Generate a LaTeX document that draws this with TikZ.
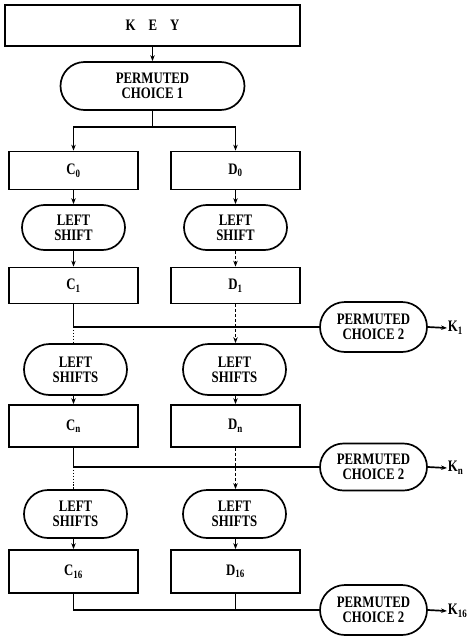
\documentclass[tikz,border=0pt]{standalone}
\usepackage{fontspec}
\setmainfont{Liberation Serif}[FakeStretch=0.8]
\usetikzlibrary{arrows.meta}
\begin{document}
\begin{tikzpicture}[x=1pt,y=-1pt, line width=1.7pt,
  txt/.style={font=\bfseries\fontsize{16}{15}\selectfont, align=center, inner sep=0pt},
  box/.style={txt, draw, rectangle, minimum width=129pt, minimum height=38pt},
  pill/.style={txt, draw, rectangle, rounded corners=#1, minimum height=2*#1},
  arr/.style={-{Stealth[length=6pt,width=4.5pt]}},
  dashline/.style={dash pattern=on 3pt off 2pt},
  dotline/.style={dash pattern=on 1.3pt off 1.6pt}]
\useasboundingbox (0,0) rectangle (474,640);
% nodes
\node[txt, draw, minimum width=295pt, minimum height=41pt] (key) at (152.5,25.5) {K\hspace{13pt}E\hspace{13pt}Y};
\node[pill=24pt, minimum width=184pt] (pc1) at (152.5,86) {PERMUTED\\CHOICE 1};
\coordinate (sp) at (152.5,127);
\node[box] (c0) at (73.5,170.5) {C\textsubscript{0}};
\node[box] (d0) at (235.5,170.5) {D\textsubscript{0}};
\node[pill=22.5pt, minimum width=103pt] (ls1c) at (73.5,227.5) {LEFT\\SHIFT};
\node[pill=22.5pt, minimum width=103pt] (ls1d) at (235.5,227.5) {LEFT\\SHIFT};
\node[box, minimum height=36pt] (c1) at (73.5,285.5) {C\textsubscript{1}};
\node[box, minimum height=36pt] (d1) at (235.5,285.5) {D\textsubscript{1}};
\coordinate (h1) at (73.5,327);
\node[pill=25pt, minimum width=107pt] (pca) at (373.5,327) {PERMUTED\\CHOICE 2};
\node[txt, anchor=west] (k1) at (447,328) {K\textsubscript{1}};
\node[pill=25.5pt, minimum width=103pt] (ls2c) at (75.5,369.5) {LEFT\\SHIFTS};
\node[pill=25.5pt, minimum width=103pt] (ls2d) at (234.5,369.5) {LEFT\\SHIFTS};
\node[box, minimum height=42pt] (cn) at (73.5,426) {C\textsubscript{n}};
\node[box, minimum height=42pt] (dn) at (235.5,426) {D\textsubscript{n}};
\coordinate (h2) at (73.5,467);
\node[pill=23.5pt, minimum width=107pt] (pcb) at (373.5,467) {PERMUTED\\CHOICE 2};
\node[txt, anchor=west] (kn) at (447,468) {K\textsubscript{n}};
\node[pill=24pt, minimum width=103pt] (ls3c) at (75.5,514) {LEFT\\SHIFTS};
\node[pill=24pt, minimum width=103pt] (ls3d) at (234.5,514) {LEFT\\SHIFTS};
\node[box, minimum height=43pt] (c16) at (73.5,571.5) {C\textsubscript{16}};
\node[box, minimum height=43pt] (d16) at (235.5,571.5) {D\textsubscript{16}};
\coordinate (h3) at (73.5,610);
\coordinate (j3) at (235.5,610);
\node[pill=25pt, minimum width=107pt] (pcc) at (373.5,610) {PERMUTED\\CHOICE 2};
\node[txt, anchor=west] (k16) at (447,611) {K\textsubscript{16}};
% connectors
\draw[arr] (key.south -| pc1.north) -- (pc1.north);
\draw (pc1.south) -- (sp);
\draw[arr] (sp) -| (c0.north);
\draw[arr] (sp) -| (d0.north);
\draw[arr] (c0.south) -- (ls1c.north -| c0.south);
\draw[arr] (d0.south) -- (ls1d.north -| d0.south);
\draw[arr] (ls1c.south -| c1.north) -- (c1.north);
\draw[arr, dashline] (ls1d.south -| d1.north) -- (d1.north);
\draw (c1.south) -- (h1) -- (pca.west);
\draw[dotline] (h1) -- (ls2c.north -| h1);
\draw[arr, dashline] (d1.south) -- (ls2d.north -| d1.south);
\draw[arr] (ls2c.south -| cn.north) -- (cn.north);
\draw[arr] (ls2d.south -| dn.north) -- (dn.north);
\draw (cn.south) -- (h2) -- (pcb.west);
\draw[dotline] (h2) -- (ls3c.north -| h2);
\draw[arr, dashline] (dn.south) -- (ls3d.north -| dn.south);
\draw[arr] (ls3c.south -| c16.north) -- (c16.north);
\draw[arr] (ls3d.south -| d16.north) -- (d16.north);
\draw (c16.south) -- (h3) -- (pcc.west);
\draw (d16.south) -- (j3);
\draw[arr] (pca.east) -- (k1.west);
\draw[arr] (pcb.east) -- (kn.west);
\draw[arr] (pcc.east) -- (k16.west);
\end{tikzpicture}
\end{document}
